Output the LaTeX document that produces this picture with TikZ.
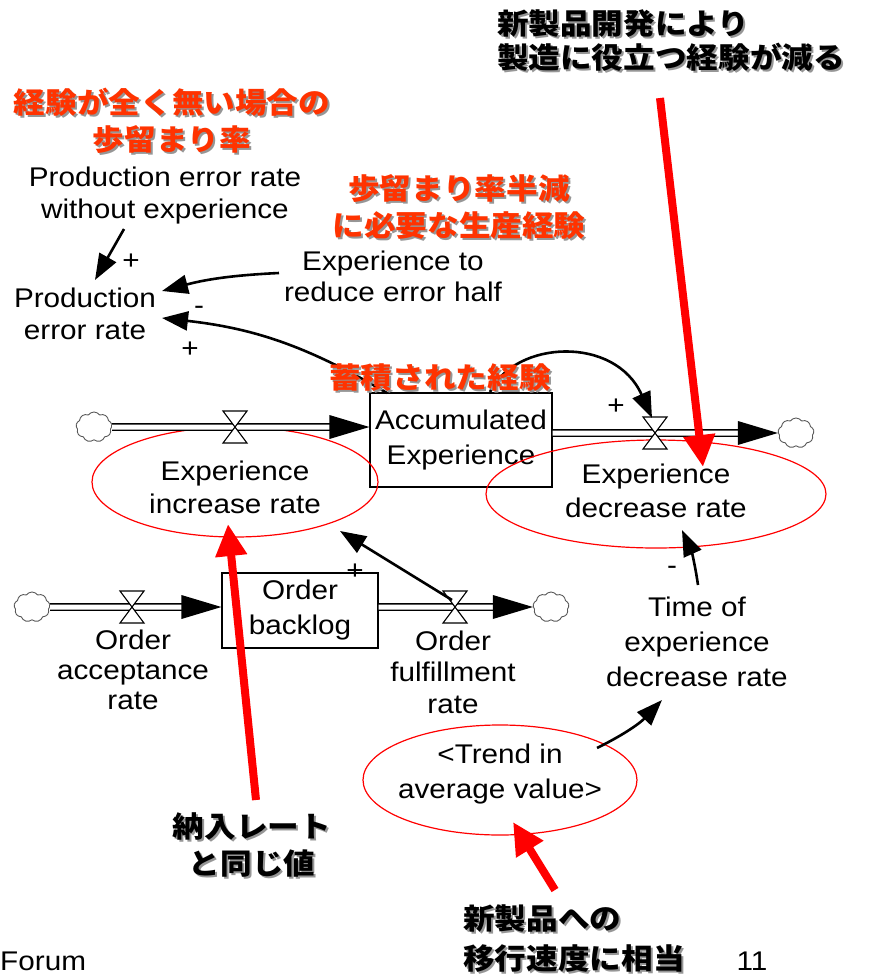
\documentclass[tikz,border=0pt]{standalone}
\usepackage{fontspec}
\setmainfont{Liberation Sans}[FakeStretch=1.1]
\newfontfamily\jp{Noto Sans CJK JP}[FakeStretch=1.09]
\usetikzlibrary{arrows.meta,shapes.geometric,shapes.symbols,calc}
\definecolor{jpred}{RGB}{255,51,0}
\definecolor{shgray}{RGB}{150,150,150}
\newcommand\shnode[4]{%
  \node[#1,text=shgray] at ($(#3)+(2,2)$) {#4};
  \node[#1] (#2) at (#3) {#4};}
\newcommand\valveat[1]{%
  \draw[valvestyle] ($(#1)+(-12,-16)$) -- ($(#1)+(12,-16)$) -- ($(#1)+(-12,16)$) -- ($(#1)+(12,16)$) -- cycle;}
\newcommand\pipehead[1]{%
  \fill ($(#1)$) -- ($(#1)+(-40,-12)$) -- ($(#1)+(-40,12)$) -- cycle;}
\begin{document}
\begin{tikzpicture}[x=1pt,y=-1pt,
  en/.style={font={\fontsize{27}{#1}\selectfont}, align=center, inner sep=0pt},
  en/.default=33,
  jr/.style={font={\jp\bfseries\fontsize{29}{#1}\selectfont}, text=jpred, align=center, inner sep=0pt},
  jr/.default=37,
  jb/.style={font={\jp\bfseries\fontsize{29}{#1}\selectfont}, text=black, align=left, inner sep=0pt},
  jb/.default=37,
  stock/.style={draw, line width=1.2pt, inner sep=0pt, font={\fontsize{27}{35}\selectfont}, align=center},
  ell/.style={ellipse, draw=red, line width=1.2pt, inner sep=0pt},
  cloudn/.style={cloud, cloud puffs=9, cloud puff arc=110, draw=black!65, line width=0.9pt, minimum width=36pt, minimum height=30pt, inner sep=0pt, aspect=1.2},
  pipe/.style={line width=1.4pt, double=white, double distance=5pt},
  valvestyle/.style={draw=black, fill=white, line width=1.1pt, line join=miter},
  link/.style={line width=2.6pt, -{Triangle[length=26pt,width=19pt]}},
  redarrow/.style={draw=red, line width=8pt, -{Triangle[length=32pt,width=30pt]}},
  sign/.style={font={\fontsize{27}{27}\selectfont}, inner sep=0pt}
]
\useasboundingbox (0,0) rectangle (868,977);

% Japanese labels
\shnode{jr}{jA}{172,121}{経験が全く無い場合の\\歩留まり率}
\shnode{jr}{jB}{459,207}{歩留まり率半減\\に必要な生産経験}
\shnode{jb=34}{jtop}{671,41}{新製品開発により\\製造に役立つ経験が減る}
\shnode{jr,text=black}{jn}{252,845}{納入レート\\と同じ値}
\shnode{jb=40}{js}{574,939}{新製品への\\移行速度に相当}

% English nodes
\node[en=32] (pewe) at (165,196) {Production error rate\\without experience};
\node[en=32] (per) at (85,314) {Production\\error rate};
\node[en=31] (etr) at (393,276) {Experience to\\reduce error half};
\node[stock, minimum width=182pt, minimum height=94pt] (acc) at (461,440) {Accumulated\\Experience};
\node[stock, minimum width=156pt, minimum height=75pt] (ob) at (300,610.5) {Order\\backlog};
\node[ell, minimum width=286pt, minimum height=110pt] (e1) at (235,482) {};
\node[en] (e1t) at (235,487) {Experience\\increase rate};
\node[ell, minimum width=340pt, minimum height=108pt] (e2) at (656,494) {};
\node[en=34] (e2t) at (656,491) {Experience\\decrease rate};
\node[ell, minimum width=274pt, minimum height=110pt] (e3) at (500,780) {};
\node[en=35] (e3t) at (500,774) {<Trend in\\average value>};
\node[en=30] (oar) at (133,670) {Order\\acceptance\\rate};
\node[en=31.5] (ofr) at (453,672) {Order\\fulfillment\\rate};
\node[en=35] (tedr) at (697,642) {Time of\\experience\\decrease rate};
\node[en, anchor=west] (forum) at (0,961) {Forum};
\node[en] (pg) at (752,961) {11};

% clouds
\node[cloudn] (c1) at (94,427) {};
\node[cloudn] (c2) at (796,433) {};
\node[cloudn] (c3) at (32,607) {};
\node[cloudn] (c4) at (551,607) {};

% pipes
\coordinate (a1) at (c1 -| acc.west);
\draw[pipe] (c1.east) -- ($(a1)+(-38,0)$);
\pipehead{a1}
\coordinate (a2) at (acc.east |- c2);
\coordinate (a2e) at (c2.west);
\draw[pipe] (a2) -- ($(a2e)+(-38,0)$);
\pipehead{a2e}
\coordinate (a3) at (c3 -| ob.west);
\draw[pipe] (c3.east) -- ($(a3)+(-38,0)$);
\pipehead{a3}
\coordinate (a4) at (ob.east |- c4);
\coordinate (a4e) at (c4.west);
\draw[pipe] (a4) -- ($(a4e)+(-38,0)$);
\pipehead{a4e}

% valves
\coordinate (v1) at (235,427);
\coordinate (v2) at (655,433);
\coordinate (v3) at (132,607);
\coordinate (v4) at (455,607);
\valveat{v1}
\valveat{v2}
\valveat{v3}
\valveat{v4}

% causal links
\draw[link] ($(pewe)+(-41,33)$) -- ($(per)+(10,-34)$);
\node[sign] (s1) at (131,262) {+};
\draw[link] ($(etr)+(-114,-3)$) to[bend right=6] ($(per)+(77,-23)$);
\node[sign] (s2) at (199,310) {-};
\draw[link] ($(acc)+(-74,-47)$) to[bend right=12] ($(per)+(77,4)$);
\node[sign] (s3) at (190,350) {+};
\draw[link] ($(acc)+(29,-48)$) .. controls ($(acc)+(54,-100)$) and ($(v2)+(-40,-98)$) .. ($(v2)+(-3,-15)$);
\node[sign] (s4) at (616,407) {+};
\draw[link] ($(v4)+(-3,-7)$) -- ($(e1)+(105,49)$);
\node[sign] (s5) at (355,572) {+};
\draw[link] ($(tedr)+(1,-57)$) to[bend right=8] ($(e2)+(26,36)$);
\node[sign] (s6) at (672,570) {-};
\draw[link] ($(e3)+(97,-32)$) to[bend right=10] ($(tedr)+(-35,58)$);

\shnode{jr}{jC}{440,378}{蓄積された経験}

% red arrows
\draw[redarrow] ($(jtop)+(-11,57)$) -- ($(e2)+(47,-27)$);
\draw[redarrow] ($(jn)+(4,-45)$) -- ($(e1)+(-7,42)$);
\draw[redarrow] ($(js)+(-19,-49)$) -- ($(e3)+(13,42)$);
\end{tikzpicture}
\end{document}
